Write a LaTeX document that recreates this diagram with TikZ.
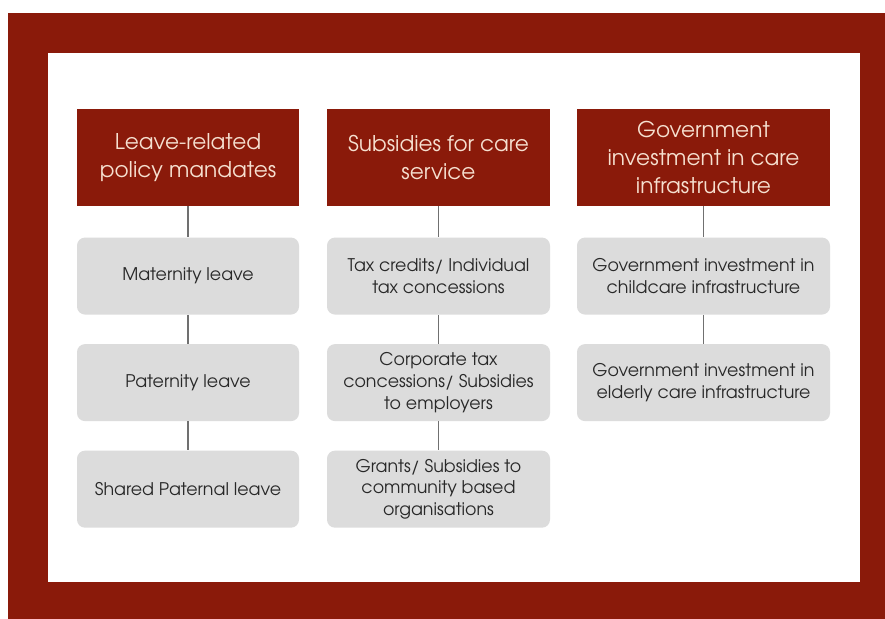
\documentclass[tikz,border=0pt]{standalone}
\usepackage{fontspec}
\setmainfont{TeX Gyre Adventor}
\usetikzlibrary{positioning}

\definecolor{framered}{RGB}{138,26,10}
\definecolor{headtext}{RGB}{246,224,208}
\definecolor{itemgray}{RGB}{220,220,220}
\definecolor{itemtext}{RGB}{40,40,40}
\definecolor{linkgray}{RGB}{112,112,112}

\tikzset{
  hdr/.style={fill=framered, text=headtext, minimum height=2.425cm,
    inner sep=0pt, align=center, font=\fontsize{15.4}{20}\selectfont},
  item/.style={fill=itemgray, text=itemtext, rounded corners=0.2cm,
    minimum height=1.925cm, inner sep=0pt, align=center,
    font=\fontsize{12.4}{15.5}\selectfont},
  link/.style={draw=linkgray, line width=0.8pt}
}

\begin{document}
\begin{tikzpicture}[node distance=0.725cm]
\useasboundingbox (0,0) rectangle (22.125,15.475);
% frame and page
\fill[framered] (0.2,0) rectangle (22.125,15.15);
\fill[white] (1.2,0.925) rectangle (21.5,14.15);

% column heads
\node[hdr, minimum width=5.55cm] (leave) at (4.7,11.5375) {Leave-related\\policy mandates};
\node[hdr, minimum width=5.575cm] (subs) at (10.9625,11.5375) {Subsidies for care\\service};
\node[hdr, minimum width=6.325cm] (invest) at (17.5875,11.5375) {Government\\investment in care\\infrastructure};

% leave column
\node[item, minimum width=5.55cm, below=0.775cm of leave] (mat) {Maternity leave};
\node[item, minimum width=5.55cm, below=of mat] (pat) {Paternity leave};
\node[item, minimum width=5.55cm, below=of pat] (shared) {Shared Paternal leave};

% subsidies column
\node[item, minimum width=5.575cm, below=0.775cm of subs] (taxcr) {Tax credits/ Individual\\tax concessions};
\node[item, minimum width=5.575cm, below=of taxcr] (corp) {Corporate tax\\concessions/ Subsidies\\to employers};
\node[item, minimum width=5.575cm, below=of corp] (grants) {Grants/ Subsidies to\\community based\\organisations};

% investment column
\node[item, minimum width=6.325cm, below=0.775cm of invest] (child) {Government investment in\\childcare infrastructure};
\node[item, minimum width=6.325cm, below=of child] (elder) {Government investment in\\elderly care infrastructure};

% links
\draw[link] (leave) -- (mat);
\draw[link] (mat) -- (pat);
\draw[link] (pat) -- (shared);
\draw[link] (subs) -- (taxcr);
\draw[link] (taxcr) -- (corp);
\draw[link] (corp) -- (grants);
\draw[link] (invest) -- (child);
\draw[link] (child) -- (elder);
\end{tikzpicture}
\end{document}
